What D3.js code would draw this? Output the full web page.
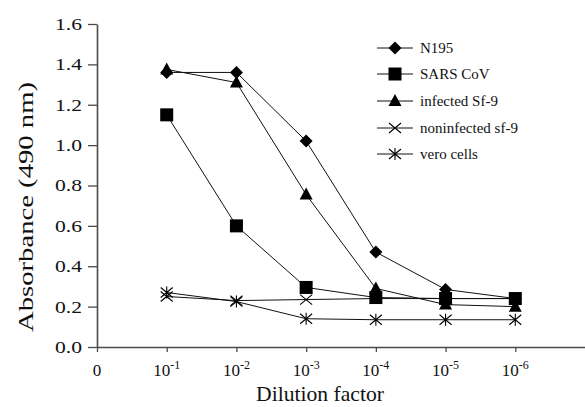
<!DOCTYPE html>
<html>
<head>
<meta charset="utf-8">
<script src="https://cdn.jsdelivr.net/npm/d3@7"></script>
<style>
  body { margin: 0; background: #fff; }
  svg text { font-family: "Liberation Serif", "Times New Roman", serif; fill: #111; }
</style>
</head>
<body>
<div id="chart"></div>
<script>
// dilution positions on the x axis (0 = origin, 1..6 = 10^-1..10^-6)
var dilutions = [1, 2, 3, 4, 5, 6];
var xTickLabels = ["0", "-1", "-2", "-3", "-4", "-5", "-6"];
var yTicks = [0, 0.2, 0.4, 0.6, 0.8, 1.0, 1.2, 1.4, 1.6];

var seriesNames = ["N195", "SARS CoV", "infected Sf-9", "noninfected sf-9", "vero cells"];
var n195 = [1.36, 1.36, 1.02, 0.47, 0.285, 0.24];
var sarsCov = [1.15, 0.60, 0.295, 0.245, 0.24, 0.24];
var infectedSf9 = [1.375, 1.31, 0.755, 0.29, 0.21, 0.20];
var noninfectedSf9 = [0.25, 0.23, 0.235, 0.24, 0.24, 0.24];
var veroCells = [0.27, 0.225, 0.14, 0.135, 0.135, 0.135];
var markers = ["diamond", "square", "triangle", "x", "asterisk"];

var svgWidth = 585;
var svgHeight = 407;
var serif = "Liberation Serif";

var svg = d3.select("#chart")
  .append("svg")
  .attr("width", svgWidth)
  .attr("height", svgHeight);

var xScale = d3.scaleLinear().domain([0, 7]).range([97, 585]);
var yScale = d3.scaleLinear().domain([0, 1.6]).range([347, 24]);

// axes
var yAxis = d3.axisLeft(yScale)
  .tickValues(yTicks)
  .tickFormat(d3.format(".1f"))
  .tickSize(9)
  .tickSizeOuter(0)
  .tickPadding(6);

var xAxis = d3.axisBottom(xScale)
  .tickValues([0, 1, 2, 3, 4, 5, 6])
  .tickFormat("")
  .tickSize(5)
  .tickSizeOuter(0);

var yG = svg.append("g")
  .attr("transform", `translate(${xScale(0)},0)`)
  .call(yAxis);

var xG = svg.append("g")
  .attr("transform", `translate(0,${yScale(0)})`)
  .call(xAxis);

[yG, xG].forEach(function(g) {
  g.attr("font-family", serif);
  g.select(".domain").attr("stroke", "#4a4a4a").attr("stroke-width", 1.6);
  g.selectAll(".tick line").attr("stroke", "#4a4a4a").attr("stroke-width", 1.3);
});
yG.selectAll(".tick text")
  .attr("font-size", 17)
  .attr("font-family", serif)
  .attr("textLength", 27)
  .attr("lengthAdjust", "spacingAndGlyphs")
  .attr("fill", "#111");

// x tick labels with superscripts
xTickLabels.forEach(function(lab, i) {
  var t = svg.append("text")
    .attr("x", xScale(i))
    .attr("y", yScale(0) + 29)
    .attr("text-anchor", "middle")
    .attr("font-family", serif)
    .attr("font-size", 17);
  if (i === 0) {
    t.text(lab);
  } else {
    t.append("tspan").text("10");
    t.append("tspan").attr("font-size", 12).attr("dy", -7).text(lab);
  }
});

// axis titles
svg.append("text")
  .attr("x", 320)
  .attr("y", 401)
  .attr("text-anchor", "middle")
  .attr("font-family", serif)
  .attr("font-size", 21)
  .attr("textLength", 128)
  .attr("lengthAdjust", "spacingAndGlyphs")
  .text("Dilution factor");

svg.append("text")
  .attr("transform", "rotate(-90)")
  .attr("x", -207)
  .attr("y", 33)
  .attr("text-anchor", "middle")
  .attr("font-family", serif)
  .attr("font-size", 21)
  .attr("textLength", 250)
  .attr("lengthAdjust", "spacingAndGlyphs")
  .text("Absorbance (490 nm)");

// marker drawing
function drawMarker(g, type, cx, cy) {
  if (type === "diamond") {
    g.append("path").attr("d", `M${cx},${cy-6.5}L${cx+6.5},${cy}L${cx},${cy+6.5}L${cx-6.5},${cy}Z`).attr("fill", "#000");
  } else if (type === "square") {
    g.append("rect").attr("x", cx - 6.5).attr("y", cy - 6.5).attr("width", 13).attr("height", 13).attr("fill", "#000");
  } else if (type === "triangle") {
    g.append("path").attr("d", `M${cx},${cy-7}L${cx+6.5},${cy+5}L${cx-6.5},${cy+5}Z`).attr("fill", "#000");
  } else if (type === "x") {
    g.append("path").attr("d", `M${cx-6},${cy-5}L${cx+6},${cy+5}M${cx-6},${cy+5}L${cx+6},${cy-5}`)
      .attr("stroke", "#000").attr("stroke-width", 1.1);
  } else {
    g.append("path").attr("d", `M${cx-6},${cy-5}L${cx+6},${cy+5}M${cx-6},${cy+5}L${cx+6},${cy-5}M${cx},${cy-6}L${cx},${cy+6}`)
      .attr("stroke", "#000").attr("stroke-width", 1.1);
  }
}

var allSeries = [n195, sarsCov, infectedSf9, noninfectedSf9, veroCells];

var line = d3.line()
  .x(function(d, i) { return xScale(dilutions[i]); })
  .y(function(d) { return yScale(d); });

var plotG = svg.append("g");
allSeries.forEach(function(values, s) {
  plotG.append("path")
    .datum(values)
    .attr("d", line)
    .attr("fill", "none")
    .attr("stroke", "#111")
    .attr("stroke-width", 1);
});
allSeries.forEach(function(values, s) {
  values.forEach(function(v, i) {
    drawMarker(plotG, markers[s], xScale(dilutions[i]), yScale(v));
  });
});

// legend
var legendY = [48, 74, 101, 128, 154];
var legend = svg.append("g");
seriesNames.forEach(function(name, i) {
  legend.append("line")
    .attr("x1", 377).attr("x2", 413)
    .attr("y1", legendY[i]).attr("y2", legendY[i])
    .attr("stroke", "#111").attr("stroke-width", 1);
  drawMarker(legend, markers[i], 395, legendY[i]);
  legend.append("text")
    .attr("x", 420)
    .attr("y", legendY[i] + 5)
    .attr("font-family", serif)
    .attr("font-size", 15)
    .text(name);
});
</script>
</body>
</html>
